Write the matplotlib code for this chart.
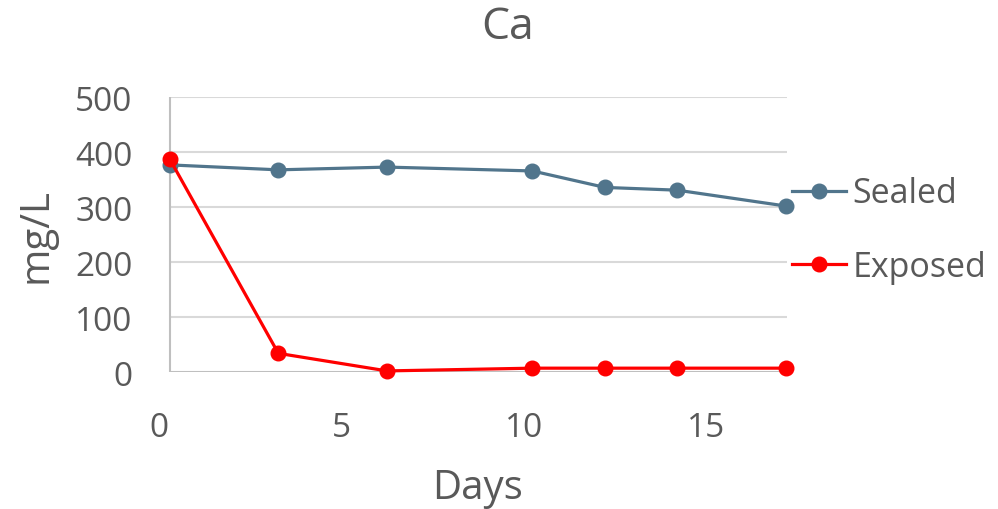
import numpy as np
import matplotlib
matplotlib.use("Agg")
import matplotlib.pyplot as plt

days = [0.3, 3.27, 6.25, 10.23, 12.22, 14.2, 17.19]
sealed = [377, 368, 373, 366, 336, 331, 302]
exposed = [387, 34, 2, 7, 7, 7, 7]
x_ticks = [0, 5, 10, 15]
y_ticks = [0, 100, 200, 300, 400, 500]

TEXT = "#595959"
plt.rcParams["font.family"] = ["Open Sans", "DejaVu Sans"]

fig = plt.figure(figsize=(9.98, 5.10), dpi=100)
ax = fig.add_axes([0.1593, 0.2686, 0.629, 0.5386])
ax.set_xlim(0, 17.2)
ax.set_ylim(0, 500)

# gridlines start at the first sample, like the original
ax.hlines(y_ticks[1:], days[0], 17.2, colors="#D9D9D9", lw=1.5, zorder=1)
ax.hlines(0, days[0], 17.2, colors="#BFBFBF", lw=1.5, zorder=1)
ax.vlines(days[0], 0, 500, colors="#BFBFBF", lw=1.5, zorder=1)

ax.plot(days, sealed, color="#51758C", lw=2.3, marker="o", ms=10.5,
        label="Sealed", clip_on=False, zorder=3)
ax.plot(days, exposed, color="#FF0000", lw=2.3, marker="o", ms=10.5,
        label="Exposed", clip_on=False, zorder=4)

for s in ax.spines.values():
    s.set_visible(False)
ax.set_xticks(x_ticks)
ax.set_yticks(y_ticks)
ax.tick_params(length=0, labelsize=24, labelcolor=TEXT)
ax.tick_params(axis="y", pad=19)
ax.tick_params(axis="x", pad=28)

ax.set_xlabel("Days", fontsize=29, color=TEXT, va="center")
ax.xaxis.set_label_coords(0.508, -0.423)
ax.set_ylabel("mg/L", fontsize=29, color=TEXT, va="center")
ax.yaxis.set_label_coords(-0.196, 0.5)

fig.text(507.5 / 998, 1 - 28 / 510, "Ca", fontsize=32, color=TEXT,
         ha="center", va="center")

leg = fig.legend(loc="center left", bbox_to_anchor=(792 / 998, 1 - 231 / 510),
                 frameon=False, fontsize=24.5, handlelength=1.58, handletextpad=0.2,
                 labelspacing=1.15, borderpad=0, borderaxespad=0)
for t in leg.get_texts():
    t.set_color(TEXT)

fig.savefig("out.png", dpi=100)
